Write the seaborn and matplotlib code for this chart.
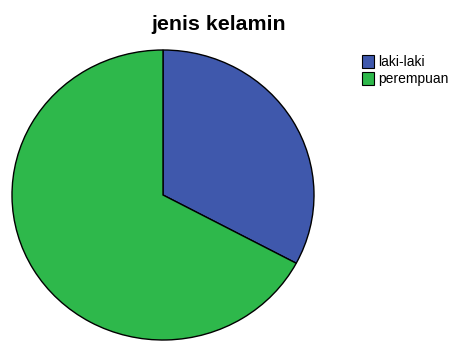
import matplotlib
matplotlib.use("Agg")
import matplotlib.pyplot as plt
import seaborn as sns
from matplotlib.patches import Patch

categories = ["laki-laki", "perempuan"]
values = [32.8, 67.2]
colors = ["#3F58AC", "#2EB84B"]
title = "jenis kelamin"

sns.set_theme(style="white")
plt.rcParams['font.family'] = ['Liberation Sans', 'DejaVu Sans']
plt.rcParams['text.color'] = 'black'

fig = plt.figure(figsize=(4.51, 3.41), dpi=100)
W, H = 451, 341
ax = fig.add_axes([12 / W, 1 / H, 302 / W, 290 / H])
wedges, _ = ax.pie(values, colors=colors, startangle=90, counterclock=False,
                   radius=1, wedgeprops=dict(edgecolor="black", linewidth=1.0))
ax.set_aspect('auto')
ax.set_xlim(-1.0, 1.0)
ax.set_ylim(-1.0, 1.0)
ax.axis('off')

fig.text(219 / W, 1 - 25 / H, title, ha="center", va="center",
         fontsize=15.4, fontweight="bold", color="black")

handles = [Patch(facecolor=c, edgecolor="black", linewidth=0.8) for c in colors]
leg = fig.legend(handles, categories, loc="upper left", bbox_to_anchor=(359 / W, 1 - 52 / H),
                 frameon=False, fontsize=10.0, handlelength=0.85, handleheight=1.05,
                 handletextpad=0.3, labelspacing=0.2, borderpad=0.2, borderaxespad=0)
for t in leg.get_texts():
    t.set_color("black")

fig.savefig("out.png", dpi=100)
